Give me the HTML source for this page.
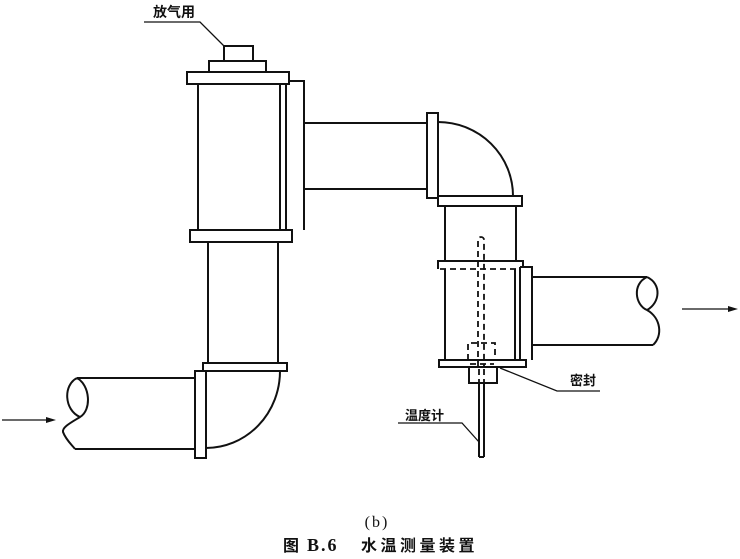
<!DOCTYPE html>
<html><head><meta charset="utf-8"><style>
html,body{margin:0;padding:0;background:#fff;}
svg{display:block;}
text{font-family:"Liberation Sans","Noto Sans CJK SC",sans-serif;fill:#111;}
</style></head><body>
<svg width="740" height="559" viewBox="0 0 740 559" xmlns="http://www.w3.org/2000/svg">
<g fill="none" stroke="#111" stroke-width="2" stroke-linejoin="miter">
<!-- top unit -->
<rect x="224" y="46" width="29" height="15"/>
<rect x="209" y="61" width="57" height="11"/>
<rect x="187" y="72" width="102" height="12"/>
<line x1="198" y1="84" x2="198" y2="230"/>
<line x1="280" y1="84" x2="280" y2="230"/>
<line x1="286" y1="84" x2="286" y2="230"/>
<polyline points="289,81 304,81 304,230"/>
<rect x="190" y="230" width="102" height="12"/>
<!-- horizontal pipe top -->
<line x1="304" y1="123" x2="427" y2="123"/>
<line x1="304" y1="189" x2="427" y2="189"/>
<rect x="427" y="113" width="11" height="85"/>
<path d="M438,122 A75,74 0 0 1 513,196"/>
<rect x="438" y="196" width="84" height="10"/>
<line x1="445" y1="206" x2="445" y2="261"/>
<line x1="516" y1="206" x2="516" y2="261"/>
<!-- right unit -->
<polyline points="438,269 438,261 523,261 523,267"/>
<line x1="445" y1="269" x2="445" y2="360"/>
<line x1="515" y1="269" x2="515" y2="360"/>
<line x1="520" y1="267" x2="520" y2="360"/>
<polyline points="520,267 532,267 532,360"/>
<line x1="532" y1="277" x2="647" y2="277"/>
<line x1="532" y1="345" x2="653" y2="345"/>
<rect x="439" y="360" width="87" height="7"/>
<polyline points="469,367 469,383 497,383 497,367"/>
<line x1="479" y1="383" x2="479" y2="457"/>
<line x1="484" y1="383" x2="484" y2="457"/>
<line x1="479" y1="457" x2="484" y2="457"/>
<!-- right break -->
<path d="M647,277 C632,284 635,305 647,310 C660,303 662,284 647,277"/>
<path d="M647,310 C661,318 663,336 653,345"/>
<!-- left lower -->
<line x1="208" y1="242" x2="208" y2="363"/>
<line x1="278" y1="242" x2="278" y2="363"/>
<rect x="203" y="363" width="84" height="8"/>
<rect x="195" y="371" width="11" height="87"/>
<path d="M280,371 A74,77 0 0 1 206,448"/>
<line x1="77" y1="378" x2="195" y2="378"/>
<line x1="75" y1="449" x2="195" y2="449"/>
<path d="M77,378 C63,385 64,410 80,417 C92,410 90,385 77,378"/>
<path d="M80,417 C72,422 62,427 63,432 C66,440 72,445 75,449"/>
</g>
<!-- dashed parts -->
<g fill="none" stroke="#111" stroke-width="1.8" stroke-dasharray="6,4">
<line x1="440" y1="269" x2="518" y2="269"/>
<path d="M478,367 L478,240 A3,3 0 0 1 484,240 L484,367"/>
<polyline points="468,360 468,343 495,343 495,360"/>
<line x1="470" y1="364" x2="494" y2="364"/>
<line x1="479" y1="369" x2="479" y2="383"/>
<line x1="484" y1="369" x2="484" y2="383"/>
</g>
<!-- leaders -->
<g fill="none" stroke="#111" stroke-width="1.3">
<polyline points="144,22 200,22 225,47"/>
<polyline points="500,368 557,391 600,391"/>
<polyline points="398,423 462,423 479,442"/>
<line x1="2" y1="420" x2="50" y2="420"/>
<line x1="682" y1="309" x2="730" y2="309"/>
</g>
<polygon points="56,420 46,417 46,423" fill="#111"/>
<polygon points="738,309 728,306 728,312" fill="#111"/>
<text x="153" y="17" font-size="14" font-weight="bold">放气用</text>
<text x="570" y="385" font-size="13" font-weight="bold">密封</text>
<text x="405" y="420" font-size="13" font-weight="bold">温度计</text>
<text x="377" y="527" font-size="16" text-anchor="middle" letter-spacing="2" style="font-family:'Liberation Serif',serif">(b)</text>
<text x="283" y="551" font-size="16" font-weight="bold">图</text>
<text x="307" y="551" font-size="18" font-weight="bold" letter-spacing="2" style="font-family:'Liberation Serif',serif">B.6</text>
<text x="361" y="551" font-size="16" font-weight="bold" letter-spacing="3.5">水温测量装置</text>
</svg>
</body></html>
